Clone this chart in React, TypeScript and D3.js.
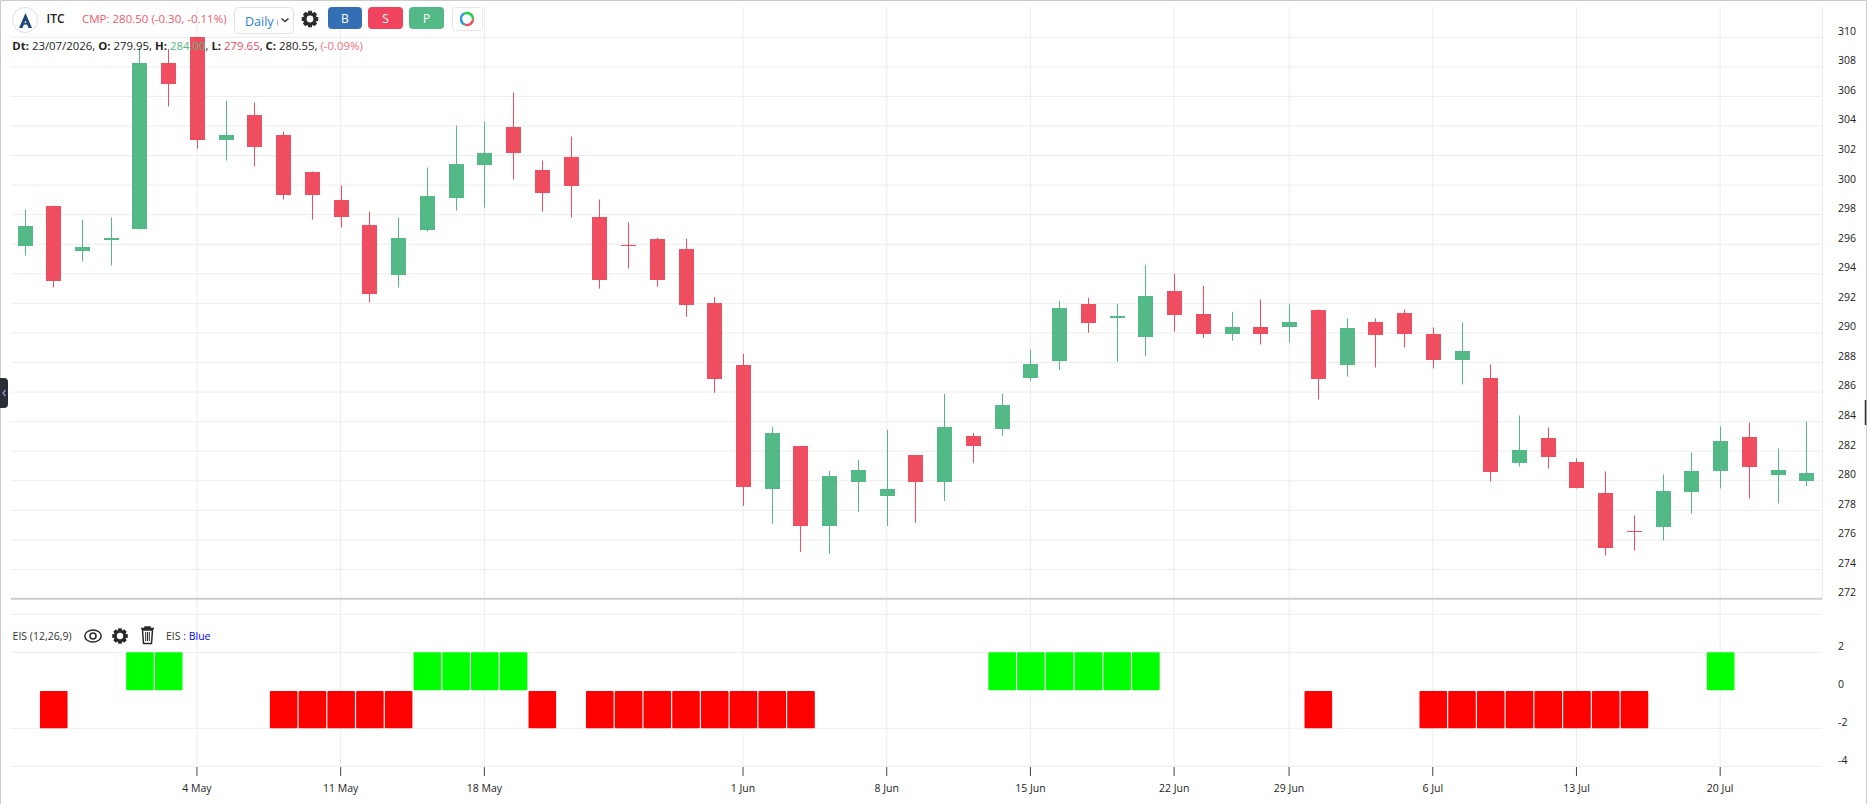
import * as React from 'react';
import * as d3 from 'd3';

const WIDTH = 1867;
const HEIGHT = 804;
const FONT = '"Open Sans", sans-serif';

const GREEN = '#53b987';
const RED = '#ee4e5f';
const GRID = '#ededed';

// one entry per trading day, 23 Apr to 23 Jul
const opens = [295.91, 298.62, 295.57, 296.32, 297.0, 308.23, 310.0, 303.02, 304.77, 303.42, 300.92, 299.02, 297.33, 293.95, 296.93, 299.16, 301.39, 303.96, 300.99, 301.87, 297.87, 295.92,
  296.37, 295.69, 292.04, 287.84, 279.45, 282.36, 276.95, 279.93, 278.98, 281.75, 279.93, 283.04, 283.51, 286.96, 288.11, 291.97, 291.02, 289.74, 292.85, 291.29, 289.94,
  290.37, 290.37, 291.52, 287.8, 290.71, 291.32, 289.96, 288.2, 286.92, 281.17, 282.86, 281.3, 279.2, 276.63, 276.9, 279.27, 280.63, 282.99, 280.42, 279.95];
const highs = [298.35, 298.62, 297.67, 297.81, 309.3, 309.2, 310.0, 305.72, 305.59, 303.62, 300.92, 299.97, 298.21, 297.81, 301.19, 304.03, 304.3, 306.26, 301.66, 303.29, 299.02, 297.47,
  296.44, 296.37, 292.44, 288.59, 283.65, 282.36, 280.67, 281.42, 283.45, 281.75, 285.88, 283.24, 285.88, 288.86, 292.17, 292.38, 291.97, 294.61, 294.0, 293.19, 291.43,
  292.26, 291.93, 291.59, 290.98, 290.98, 291.59, 290.37, 290.71, 287.87, 284.41, 283.6, 281.51, 280.63, 277.65, 280.42, 281.91, 283.67, 283.94, 282.18, 284.0];
const lows = [295.23, 293.07, 294.83, 294.56, 297.0, 305.32, 302.47, 301.66, 301.26, 299.02, 297.67, 297.13, 292.06, 293.07, 296.86, 298.28, 298.48, 300.38, 298.21, 297.81, 293.0, 294.36,
  293.12, 291.09, 285.95, 278.3, 277.09, 275.19, 275.06, 277.9, 276.95, 277.15, 278.64, 281.21, 283.04, 286.76, 287.51, 290.01, 288.05, 288.45, 290.08, 289.67, 289.47,
  289.22, 289.35, 285.5, 287.05, 287.66, 289.02, 287.6, 286.51, 279.95, 280.96, 280.83, 279.48, 274.94, 275.28, 275.96, 277.78, 279.48, 278.8, 278.46, 279.65];
const closes = [297.26, 293.54, 295.84, 296.45, 308.23, 306.87, 303.02, 303.42, 302.61, 299.36, 299.36, 297.81, 292.6, 296.45, 299.23, 301.46, 302.14, 302.2, 299.5, 299.97, 293.61, 295.88,
  293.6, 291.9, 286.9, 279.59, 283.24, 276.95, 280.33, 280.74, 279.45, 279.93, 283.65, 282.36, 285.14, 287.91, 291.7, 290.69, 291.16, 292.51, 291.23, 289.94, 290.41,
  289.9, 290.71, 286.85, 290.3, 289.83, 289.9, 288.14, 288.75, 280.56, 282.05, 281.64, 279.54, 275.48, 276.58, 279.34, 280.69, 282.66, 280.9, 280.76, 280.55];

// EIS histogram, 0 means no bar that day
const eisValues = [0, -2, 0, 0, 2, 2, 0, 0, 0, -2, -2, -2, -2, -2, 2, 2, 2, 2, -2, 0, -2, -2,
  -2, -2, -2, -2, -2, -2, 0, 0, 0, 0, 0, 0, 2, 2, 2, 2, 2, 2, 0, 0, 0,
  0, 0, -2, 0, 0, 0, -2, -2, -2, -2, -2, -2, -2, -2, 0, 0, 2, 0, 0, 0];

const priceTicks = [310, 308, 306, 304, 302, 300, 298, 296, 294, 292, 290, 288, 286, 284, 282, 280, 278, 276, 274];
const eisTicks = [2, 0, -2, -4];
const dateTickDays = [6, 11, 16, 25, 30, 35, 40, 44, 49, 54, 59];
const dateTickLabels = ['4 May', '11 May', '18 May', '1 Jun', '8 Jun', '15 Jun', '22 Jun', '29 Jun', '6 Jul', '13 Jul', '20 Jul'];

const days = d3.range(opens.length);

// little cog used in the toolbar and on the indicator row
function gearPath(r: number) {
  const teeth = 8;
  const pts: [number, number][] = [];
  for (let i = 0; i < teeth; i++) {
    const a = (i / teeth) * Math.PI * 2;
    const w = Math.PI / teeth;
    pts.push([Math.cos(a - w * 0.55) * r, Math.sin(a - w * 0.55) * r]);
    pts.push([Math.cos(a + w * 0.55) * r, Math.sin(a + w * 0.55) * r]);
    pts.push([Math.cos(a + w * 0.85) * r * 0.78, Math.sin(a + w * 0.85) * r * 0.78]);
    pts.push([Math.cos(a + w * 1.15) * r * 0.78, Math.sin(a + w * 1.15) * r * 0.78]);
  }
  return d3.line()(pts) + 'Z';
}

function Gear({ x, y, r }: { x: number; y: number; r: number }) {
  return <g transform={`translate(${x},${y})`}>
    <path d={gearPath(r)} fill="#2b2b2b" />
    <circle r={r * 0.4} fill="#fff" />
  </g>;
}

function App() {
  const xScale = d3.scaleLinear().domain([0, days.length - 1]).range([24.5, 1806.4]);
  const yPrice = d3.scaleLinear().domain([272, 310]).range([599, 37.3]);
  const yEis = d3.scaleLinear().domain([-4, 4]).range([766.3, 614.3]);

  const bodyWidth = 15;
  const eisWidth = 27.6;

  const ringArc = d3.arc<{ a: number; b: number }>()
    .innerRadius(4.8).outerRadius(7.2)
    .startAngle(d => d.a).endAngle(d => d.b);
  const ring = [
    { a: -0.5, b: 1.6, c: '#24d24a' },
    { a: 1.6, b: 3.5, c: '#ee4e5f' },
    { a: 3.5, b: 5.8, c: '#2f9be0' },
  ];

  return <svg width={WIDTH} height={HEIGHT} style={{ position: 'absolute', left: 0, top: 0, fontFamily: FONT }}>
    <defs>
      <clipPath id="dailyClip"><rect x={240} y={8} width={38} height={25} /></clipPath>
    </defs>
    <rect width={WIDTH} height={HEIGHT} fill="#fff" />

    {/* grid */}
    {priceTicks.map(t => <line key={t} x1={11} x2={1822} y1={yPrice(t)} y2={yPrice(t)} stroke={GRID} />)}
    {[4, 2, -2, -4].map(t => <line key={t} x1={11} x2={1822} y1={yEis(t)} y2={yEis(t)} stroke={GRID} />)}
    {dateTickDays.map(d => <line key={d} x1={xScale(d)} x2={xScale(d)} y1={7} y2={766} stroke={GRID} />)}
    <line x1={1822.5} x2={1822.5} y1={7} y2={599} stroke={GRID} />
    <line x1={11} x2={1822} y1={598.8} y2={598.8} stroke="#cccccc" strokeWidth={2} />

    {/* candles */}
    {days.map(i => {
      const up = closes[i] >= opens[i];
      const colour = up ? GREEN : RED;
      const top = yPrice(Math.max(opens[i], closes[i]));
      const bottom = yPrice(Math.min(opens[i], closes[i]));
      const cx = Math.round(xScale(i)) + 0.5;
      return <g key={i}>
        <line x1={cx} x2={cx} y1={yPrice(highs[i])} y2={yPrice(lows[i])} stroke={colour} />
        <rect x={cx - bodyWidth / 2} y={top} width={bodyWidth} height={Math.max(bottom - top, 1)} fill={colour} shapeRendering="crispEdges" />
      </g>;
    })}

    {/* EIS bars */}
    {days.filter(i => eisValues[i] !== 0).map(i => {
      const v = eisValues[i];
      const y0 = v > 0 ? yEis(v) : yEis(0) + 0.7;
      const y1 = v > 0 ? yEis(0) : yEis(v);
      return <rect key={i} x={xScale(i) - eisWidth / 2 + 0.5} y={y0} width={eisWidth} height={y1 - y0} rx={1}
        fill={v > 0 ? '#00ff00' : '#ff0000'} />;
    })}

    {/* axes */}
    <g fontSize={10.5} fill="#222">
      {priceTicks.concat([272]).map(t => <text key={t} x={1838} y={yPrice(t) - 2.6}>{t}</text>)}
      {eisTicks.map(t => <text key={t} x={1838} y={yEis(t) - 2.6}>{t}</text>)}
      {dateTickDays.map((d, i) => <g key={d}>
        <line x1={xScale(d)} x2={xScale(d)} y1={767} y2={776} stroke="#444" />
        <text x={xScale(d)} y={792} textAnchor="middle">{dateTickLabels[i]}</text>
      </g>)}
    </g>

    {/* toolbar */}
    <circle cx={25} cy={20} r={12.5} fill="#fff" stroke="#dcdfea" />
    <path d="M25.5 13 L32 28 L28.5 28 L25.5 20.5 L22.5 28 L19 28 Z" fill="#1f4a7c" />
    <rect x={22.5} y={23} width={6} height={1.6} fill="#1f4a7c" />
    <text x={46.5} y={22.5} fontSize={12} fontWeight={600} fill="#222">ITC</text>
    <text x={82} y={23} fontSize={11.5} fill="#ee5a67">CMP: 280.50 (-0.30, -0.11%)</text>

    <rect x={234.5} y={7.5} width={59} height={26} rx={4} fill="#fff" stroke="#e0e0ee" />
    <text x={245} y={26} fontSize={12.5} fill="#2b7de0" clipPath="url(#dailyClip)">Daily (</text>
    <path d="M281.5 18.5 L285 21.5 L288.5 18.5" fill="none" stroke="#333" strokeWidth={1.4} />
    <Gear x={310} y={19} r={8.5} />

    <rect x={328} y={7} width={34} height={22} rx={4} fill="#346fb5" />
    <text x={345} y={23} fontSize={12} fill="#fff" textAnchor="middle">B</text>
    <rect x={368} y={7} width={35} height={22} rx={4} fill="#f0445e" />
    <text x={385.5} y={23} fontSize={12} fill="#fff" textAnchor="middle">S</text>
    <rect x={409} y={7} width={35} height={22} rx={4} fill="#52b987" />
    <text x={426.5} y={23} fontSize={12} fill="#fff" textAnchor="middle">P</text>

    <rect x={452.5} y={7.5} width={30} height={23} rx={3} fill="#fff" stroke="#e6e6e6" />
    <g transform="translate(467,19)">
      {ring.map(s => <path key={s.c} d={ringArc(s) as string} fill={s.c} />)}
    </g>

    {/* OHLC line */}
    <text x={12.3} y={49.5} fontSize={11.4} fill="#222">
      <tspan fontWeight={700}>Dt: </tspan>23/07/2026, <tspan fontWeight={700}>O: </tspan>279.95, <tspan fontWeight={700}>H: </tspan>
      <tspan fill={GREEN}>284.00</tspan>, <tspan fontWeight={700}>L: </tspan><tspan fill={RED}>279.65</tspan>, <tspan fontWeight={700}>C: </tspan>280.55, <tspan fill="#f2707c">(-0.09%)</tspan>
    </text>

    {/* indicator row */}
    <text x={12.6} y={640} fontSize={10.5} fill="#333">EIS (12,26,9)</text>
    <ellipse cx={93} cy={636} rx={8.2} ry={6} fill="none" stroke="#2b2b2b" strokeWidth={1.5} />
    <circle cx={93} cy={636} r={3} fill="none" stroke="#2b2b2b" strokeWidth={1.5} />
    <Gear x={120} y={636} r={8} />
    <path d="M142.5 630 H152.5 L151.5 643.5 H143.5 Z M141 628.5 H154 M145 628.5 V627 H150 V628.5" fill="#fff" stroke="#2b2b2b" strokeWidth={1.5} />
    <path d="M145.7 632 V641 M147.5 632 V641 M149.3 632 V641" stroke="#2b2b2b" strokeWidth={1} />
    <text x={166} y={640} fontSize={10.5} fill="#333">EIS : <tspan fill="#0000ff">Blue</tspan></text>

    {/* panel edges */}
    <path d="M0.5 804 V0.5 H1866.5 V804" fill="none" stroke="#cccccc" />
    <path d="M0 378 H4 Q8 378 8 382 V404 Q8 408 4 408 H0 Z" fill="#2a2d36" />
    <path d="M5.5 390 L3 393 L5.5 396" fill="none" stroke="#8d9be8" strokeWidth={1.2} />
    <line x1={1865.5} x2={1865.5} y1={400} y2={425} stroke="#333" strokeWidth={1.5} />
  </svg>;
}

export default App;
